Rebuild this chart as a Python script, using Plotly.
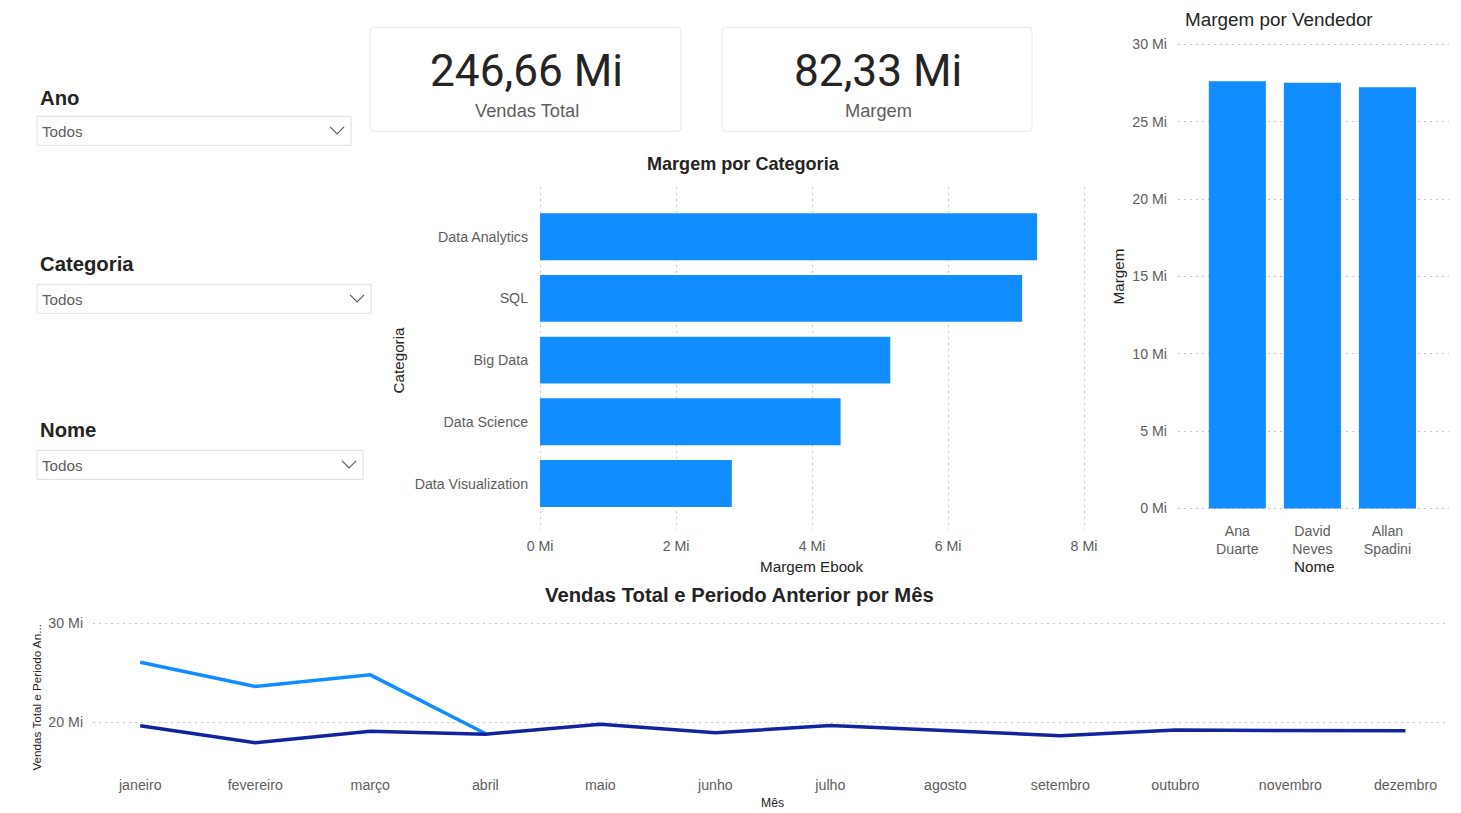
import plotly.graph_objects as go

W, H = 1461, 813
# The photographed page maps figure pixel f to picture pixel (OX + S*f, OY + S*f);
# positions below are given in picture pixels and converted back.
S, OX, OY = 0.985, 9.9, 5.7
F = 1 / S  # font compensation

# ---------------- data ----------------
categorias = ["Data Analytics", "SQL", "Big Data", "Data Science", "Data Visualization"]
margem_ebook = [7.31, 7.09, 5.15, 4.42, 2.82]          # Mi
cat_ticks = [0, 2, 4, 6, 8]
cat_tick_text = ["0 Mi", "2 Mi", "4 Mi", "6 Mi", "8 Mi"]

vendedores = ["Ana<br>Duarte", "David<br>Neves", "Allan<br>Spadini"]
margem_vendedor = [27.61, 27.52, 27.22]                 # Mi
vend_ticks = [0, 5, 10, 15, 20, 25, 30]
vend_tick_text = ["0 Mi", "5 Mi", "10 Mi", "15 Mi", "20 Mi", "25 Mi", "30 Mi"]

meses = ["janeiro", "fevereiro", "março", "abril", "maio", "junho",
         "julho", "agosto", "setembro", "outubro", "novembro", "dezembro"]
vendas_total = [26.09, 23.64, 24.81, 18.89, None, None, None, None, None, None, None, None]
periodo_anterior = [19.66, 17.95, 19.12, 18.82, 19.83, 18.96, 19.70, 19.16, 18.66, 19.23, 19.16, 19.16]
line_ticks = [20, 30]
line_tick_text = ["20 Mi", "30 Mi"]

kpi_vendas = "246,66 Mi"
kpi_margem = "82,33 Mi"
slicers = [("Ano", "Todos"), ("Categoria", "Todos"), ("Nome", "Todos")]

# ---------------- helpers ----------------
def px(x):
    return ((x - OX) / S) / W

def py(y):
    return 1 - ((y - OY) / S) / H

def fs(v):
    return round(v * F, 2)

BLUE = "#118DFF"
DARK = "#12239E"
TXT = "#252423"
GRAY = "#605E5C"
GRID = "#C8C6C4"
DOT = "2px,4px"
TICKF = "Liberation Sans"
BOLDF = "Liberation Sans"

fig = go.Figure()

fig.add_trace(go.Bar(x=margem_ebook, y=categorias, orientation="h", xaxis="x", yaxis="y",
                     marker=dict(color=BLUE, line=dict(width=0)), width=0.76, name="Margem Ebook"))
fig.add_trace(go.Bar(x=vendedores, y=margem_vendedor, xaxis="x2", yaxis="y2",
                     marker=dict(color=BLUE, line=dict(width=0)), width=0.76, name="Margem"))
fig.add_trace(go.Scatter(x=meses, y=vendas_total, mode="lines", xaxis="x3", yaxis="y3",
                         line=dict(color=BLUE, width=3.5), name="Vendas Total"))
fig.add_trace(go.Scatter(x=meses, y=periodo_anterior, mode="lines", xaxis="x3", yaxis="y3",
                         line=dict(color=DARK, width=3.5), name="Periodo Anterior"))

tickfont = dict(family=TICKF, size=fs(14), color=GRAY)

fig.update_layout(
    width=W, height=H, autosize=False,
    margin=dict(l=0, r=0, t=0, b=0),
    paper_bgcolor="white", plot_bgcolor="rgba(0,0,0,0)",
    showlegend=False,
    # bar chart: 68 px per Mi, 0 Mi at x=539
    xaxis=dict(domain=[px(537), px(1085)], range=[-2 / 68, 8 + 2 / 68], tickvals=cat_ticks,
               ticktext=cat_tick_text, showgrid=True, griddash=DOT, gridcolor=GRID, gridwidth=1,
               zeroline=False, showline=False, ticks="", tickfont=tickfont, anchor="y",
               ticklabelstandoff=5),
    yaxis=dict(domain=[py(530), py(187)], type="category", categoryorder="array",
               categoryarray=categorias, range=[4.76, -0.80], showgrid=False, zeroline=False,
               showline=False, ticks="", tickfont=tickfont, anchor="x", ticklabelstandoff=9),
    xaxis2=dict(domain=[px(1177), px(1448)], type="category", range=[-0.79, 2.82],
                showgrid=False, zeroline=False, showline=False, ticks="", tickfont=tickfont,
                anchor="y2", ticklabelstandoff=10),
    # vendor chart: 15.47 px per Mi, 0 at y=508
    yaxis2=dict(domain=[py(510), py(42)], range=[-2 / 15.47, 30 + 2 / 15.47], tickvals=vend_ticks,
                ticktext=vend_tick_text, showgrid=True, griddash=DOT, gridcolor=GRID,
                zeroline=False, showline=False, ticks="", tickfont=tickfont, anchor="x2",
                ticklabelstandoff=10),
    xaxis3=dict(domain=[px(92), px(1447)], type="category", range=[-0.41, 11.37],
                showgrid=False, zeroline=False, showline=False, ticks="", tickfont=tickfont,
                anchor="y3", ticklabelstandoff=3),
    # line chart: 9.9 px per Mi, 30 at y=623
    yaxis3=dict(domain=[py(771.5), py(621)], range=[15, 30 + 2 / 9.9], tickvals=line_ticks,
                ticktext=line_tick_text, showgrid=True, griddash=DOT, gridcolor=GRID,
                zeroline=False, showline=False, ticks="", tickfont=tickfont, anchor="x3",
                ticklabelstandoff=9),
)

shapes = []
annotations = []


def rounded(x0, y0, x1, y1, r=4):
    X0, X1 = px(x0), px(x1)
    Y0, Y1 = py(y0), py(y1)
    rx, ry = r / W, r / H
    return (f"M {X0+rx},{Y0} L {X1-rx},{Y0} Q {X1},{Y0} {X1},{Y0-ry} L {X1},{Y1+ry} "
            f"Q {X1},{Y1} {X1-rx},{Y1} L {X0+rx},{Y1} Q {X0},{Y1} {X0},{Y1+ry} L {X0},{Y0-ry} "
            f"Q {X0},{Y0} {X0+rx},{Y0} Z")


# KPI cards
for (x0, x1, val, lab) in [(369, 680, kpi_vendas, "Vendas Total"), (721, 1031, kpi_margem, "Margem")]:
    shapes.append(dict(type="path", xref="paper", yref="paper", path=rounded(x0, 27, x1, 131),
                       line=dict(color="#E8E8E8", width=1), fillcolor="white", layer="below"))
    cx = (x0 + x1) / 2 + 1
    annotations.append(dict(x=px(cx), y=py(71), xref="paper", yref="paper", text=val, showarrow=False,
                            xanchor="center", yanchor="middle",
                            font=dict(family="Roboto", size=fs(43.5), color=TXT)))
    annotations.append(dict(x=px(cx), y=py(110), xref="paper", yref="paper", text=lab, showarrow=False,
                            xanchor="center", yanchor="middle",
                            font=dict(family=TICKF, size=fs(18), color=GRAY)))

# slicers
slicer_pos = [(98, 116, 145, 350), (264, 284, 313, 370), (430, 450, 479, 362)]
for (head, val), (hy, by0, by1, bx1) in zip(slicers, slicer_pos):
    annotations.append(dict(x=px(36.5), y=py(hy), xref="paper", yref="paper", text=f"<b>{head}</b>",
                            showarrow=False, xanchor="left", yanchor="middle",
                            font=dict(family=BOLDF, size=fs(20), color=TXT)))
    shapes.append(dict(type="rect", xref="paper", yref="paper", x0=px(36), x1=px(bx1), y0=py(by1),
                       y1=py(by0), line=dict(color="#E1DFDD", width=1), fillcolor="white", layer="below"))
    my = (by0 + by1) / 2
    annotations.append(dict(x=px(39), y=py(my + 1), xref="paper", yref="paper", text=val, showarrow=False,
                            xanchor="left", yanchor="middle",
                            font=dict(family=TICKF, size=fs(15), color=GRAY)))
    cxv = bx1 - 14
    shapes.append(dict(type="path", xref="paper", yref="paper",
                       path=f"M {px(cxv-7)},{py(my-4)} L {px(cxv)},{py(my+3)} L {px(cxv+7)},{py(my-4)}",
                       line=dict(color="#605E5C", width=1.2)))

# titles
annotations.append(dict(x=px(742), y=py(164), xref="paper", yref="paper", text="<b>Margem por Categoria</b>",
                        showarrow=False, xanchor="center", yanchor="middle",
                        font=dict(family=BOLDF, size=fs(17.8), color=TXT)))
annotations.append(dict(x=px(1278), y=py(19), xref="paper", yref="paper", text="Margem por Vendedor",
                        showarrow=False, xanchor="center", yanchor="middle",
                        font=dict(family=TICKF, size=fs(18.6), color=TXT)))
annotations.append(dict(x=px(738), y=py(595), xref="paper", yref="paper",
                        text="<b>Vendas Total e Periodo Anterior por Mês</b>",
                        showarrow=False, xanchor="center", yanchor="middle",
                        font=dict(family=BOLDF, size=fs(20), color=TXT)))

# axis titles
annotations.append(dict(x=px(811), y=py(566), xref="paper", yref="paper", text="Margem Ebook",
                        showarrow=False, xanchor="center", yanchor="middle",
                        font=dict(family=TICKF, size=fs(15), color=TXT)))
annotations.append(dict(x=px(397), y=py(360), xref="paper", yref="paper", text="Categoria", textangle=-90,
                        showarrow=False, xanchor="center", yanchor="middle",
                        font=dict(family=TICKF, size=fs(15), color=TXT)))
annotations.append(dict(x=px(1313), y=py(566), xref="paper", yref="paper", text="Nome",
                        showarrow=False, xanchor="center", yanchor="middle",
                        font=dict(family=TICKF, size=fs(15), color=TXT)))
annotations.append(dict(x=px(1117), y=py(276), xref="paper", yref="paper", text="Margem", textangle=-90,
                        showarrow=False, xanchor="center", yanchor="middle",
                        font=dict(family=TICKF, size=fs(15), color=TXT)))
annotations.append(dict(x=px(771), y=py(803), xref="paper", yref="paper", text="Mês",
                        showarrow=False, xanchor="center", yanchor="middle",
                        font=dict(family=TICKF, size=fs(12), color=TXT)))
annotations.append(dict(x=px(35), y=py(697), xref="paper", yref="paper", text="Vendas Total e Periodo An...",
                        textangle=-90, showarrow=False, xanchor="center", yanchor="middle",
                        font=dict(family=TICKF, size=fs(11.5), color=TXT)))

fig.update_layout(shapes=shapes, annotations=annotations)
fig.write_html("out.html", config={"displayModeBar": False})
